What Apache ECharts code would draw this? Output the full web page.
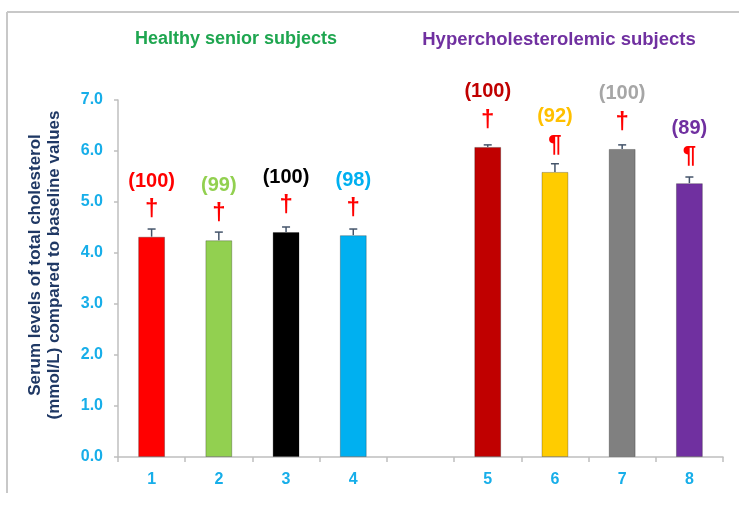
<!DOCTYPE html>
<html>
<head>
<meta charset="utf-8">
<script src="https://cdn.jsdelivr.net/npm/echarts@6/dist/echarts.min.js"></script>
<style>html,body{margin:0;padding:0;background:#fff}#c{width:750px;height:508px}</style>
</head>
<body>
<div id="c"></div>
<script>
const categories = ['1', '2', '3', '4', '', '5', '6', '7', '8'];
const meanValues = [4.32, 4.25, 4.41, 4.35, null, 6.08, 5.59, 6.04, 5.37];
const errorValues = [0.15, 0.16, 0.10, 0.12, null, 0.04, 0.16, 0.08, 0.12];
const percentLabels = ['(100)', '(99)', '(100)', '(98)', '', '(100)', '(92)', '(100)', '(89)'];
const markerLabels = ['†', '†', '†', '†', '', '†', '¶', '†', '¶'];
const groupTitles = ['Healthy senior subjects', 'Hypercholesterolemic subjects'];
const yAxisTitle = 'Serum levels of total cholesterol\n(mmol/L) compared to baseline values';

const barColors = ['#ff0000', '#92d050', '#000000', '#00b0f0', '#ffffff', '#c00000', '#ffcc00', '#808080', '#7030a0'];
const labelColors = ['#ff0000', '#92d050', '#000000', '#00b0f0', '#ffffff', '#c00000', '#ffc000', '#a6a6a6', '#7030a0'];
const tickColor = '#17aee9';
const FONT = '"Liberation Sans", Arial, sans-serif';

const chart = echarts.init(document.getElementById('c'));

const barData = meanValues.map((v, i) => ({
  value: v,
  itemStyle: { color: barColors[i], borderColor: 'rgba(0,0,0,0.25)', borderWidth: 1 },
  label: {
    show: v != null,
    formatter: '{p|' + percentLabels[i] + '}\n{m|' + markerLabels[i] + '}',
    rich: {
      p: { fontSize: 20, fontWeight: 'bold', color: labelColors[i], fontFamily: FONT, lineHeight: 28 },
      m: { fontSize: 24, fontWeight: 'bold', color: '#ff0000', fontFamily: FONT, lineHeight: 28 }
    }
  }
}));

const errData = meanValues.map((v, i) => [i, v, errorValues[i]]).filter(d => d[1] != null);

chart.setOption({
  animation: false,
  backgroundColor: '#ffffff',
  grid: { left: 118, right: 27, top: 100, bottom: 51 },
  title: [
    { text: groupTitles[0], left: 231, top: 25, textAlign: 'center',
      textStyle: { color: '#1fa650', fontSize: 18, fontWeight: 'bold', fontFamily: FONT } },
    { text: groupTitles[1], left: 554, top: 25, textAlign: 'center',
      textStyle: { color: '#7030a0', fontSize: 18.5, fontWeight: 'bold', fontFamily: FONT } }
  ],
  graphic: [
    { type: 'line', shape: { x1: 7, y1: 12, x2: 739, y2: 12 }, style: { stroke: '#c8c8c8', lineWidth: 2 } },
    { type: 'line', shape: { x1: 7, y1: 12, x2: 7, y2: 493 }, style: { stroke: '#c8c8c8', lineWidth: 2 } },
    { type: 'text', x: 45, y: 265, rotation: Math.PI / 2,
      style: { text: yAxisTitle, align: 'center', verticalAlign: 'middle', fill: '#1f3864',
        font: 'bold 17px ' + FONT, lineHeight: 19 } }
  ],
  xAxis: {
    type: 'category',
    data: categories,
    boundaryGap: true,
    axisLine: { lineStyle: { color: '#bfbfbf', width: 1.5 } },
    axisTick: { show: true, interval: 0, length: 5, lineStyle: { color: '#bfbfbf', width: 1.5 } },
    axisLabel: { color: tickColor, fontSize: 16, fontWeight: 'bold', fontFamily: FONT, margin: 15, interval: 0 }
  },
  yAxis: {
    type: 'value',
    min: 0, max: 7, interval: 1,
    axisLine: { show: true, lineStyle: { color: '#bfbfbf', width: 1.5 } },
    axisTick: { show: true, length: 4, lineStyle: { color: '#bfbfbf', width: 1.5 } },
    splitLine: { show: false },
    axisLabel: { color: tickColor, fontSize: 16, fontWeight: 'bold', fontFamily: FONT, margin: 15,
      formatter: v => v.toFixed(1) }
  },
  series: [
    {
      type: 'bar',
      data: barData,
      barWidth: '40%',
      label: { show: true, position: 'top', distance: 13, align: 'center' }
    },
    {
      type: 'custom',
      data: errData,
      z: 3,
      renderItem: function (params, api) {
        const x = api.value(0);
        const base = api.coord([x, api.value(1)]);
        const top = api.coord([x, api.value(1) + api.value(2)]);
        const cap = 4;
        const st = { stroke: '#44546a', lineWidth: 1.5 };
        return {
          type: 'group',
          children: [
            { type: 'line', shape: { x1: base[0], y1: base[1], x2: top[0], y2: top[1] }, style: st },
            { type: 'line', shape: { x1: top[0] - cap, y1: top[1], x2: top[0] + cap, y2: top[1] }, style: st }
          ]
        };
      }
    }
  ]
});
</script>
</body>
</html>
